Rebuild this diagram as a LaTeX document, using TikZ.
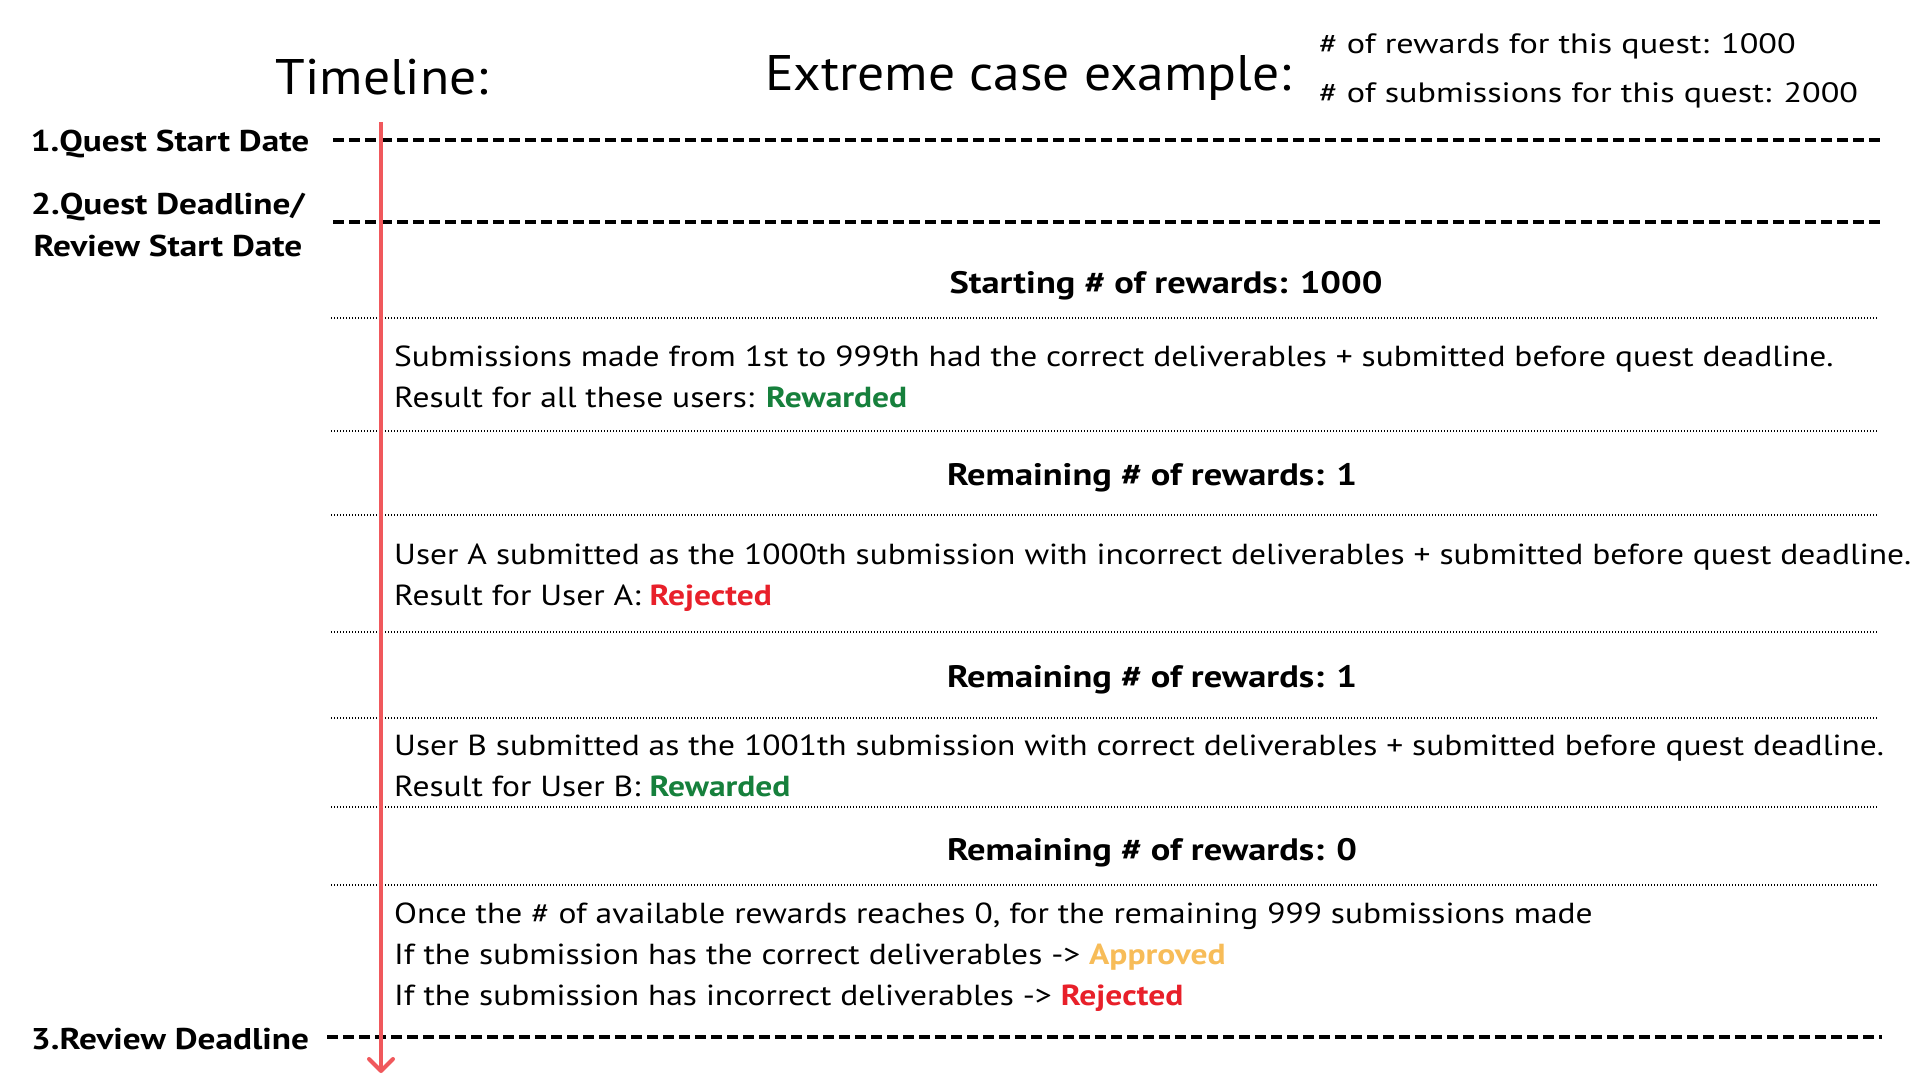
\documentclass[tikz,border=0pt]{standalone}
\usepackage{fontspec}
\setmainfont{PT Sans}
\newfontfamily\tlTitleFont{PT Sans}[FakeStretch=1.07]
\newfontfamily\tlTextFont{PT Sans}[FakeStretch=1.155]
\newfontfamily\tlBoldFont{PT Sans}[FakeStretch=1.175]
\newfontfamily\tlInfoFont{PT Sans}[FakeStretch=1.22]
\usetikzlibrary{arrows.meta}
\definecolor{rojoLinea}{RGB}{240,88,92}
\definecolor{verdeOk}{RGB}{22,128,60}
\definecolor{rojoNo}{RGB}{232,32,42}
\definecolor{naranjaOk}{RGB}{247,188,88}
\newcommand{\okRew}{\textcolor{verdeOk}{\bfseries Rewarded}}
\newcommand{\okRej}{\textcolor{rojoNo}{\bfseries Rejected}}
\newcommand{\okApr}{\textcolor{naranjaOk}{\bfseries Approved}}
\tikzset{
  tl/title/.style={font=\tlTitleFont\fontsize{50}{60}\selectfont, inner sep=0pt},
  tl/info/.style={font=\tlInfoFont\fontsize{28}{34}\selectfont, anchor=west,
    inner sep=0pt},
  tl/date/.style={font=\tlBoldFont\fontsize{30}{42}\selectfont\bfseries,
    align=center, inner sep=0pt},
  tl/head/.style={font=\tlBoldFont\fontsize{31}{36}\selectfont\bfseries,
    inner sep=0pt},
  tl/body/.style={font=\tlTextFont\fontsize{29}{41}\selectfont, anchor=west,
    align=left, inner sep=0pt},
  tl/dash/.style={line width=4pt, dash pattern=on 11pt off 5pt},
  tl/dot/.style={line width=1.3pt, dash pattern=on 1.4pt off 1.6pt},
  tl/arr/.style={draw=rojoLinea, line width=4pt,
    -{Straight Barb[length=12pt, width=24pt, round]}}
}

\begin{document}
\begin{tikzpicture}[x=1pt, y=-1pt]
  \useasboundingbox (0,0) rectangle (1920,1080);

  % Titulos
  \node[tl/title] at (382, 77) (tit) {Timeline:};
  \node[tl/title, anchor=west] at (765, 78) (ext) {Extreme case example:};
  \node[tl/info] at (1319, 46) (i1) {\# of rewards for this quest: 1000};
  \node[tl/info] at (1319, 95) (i2) {\# of submissions for this quest: 2000};

  % Fechas de la linea de tiempo
  \node[tl/date] at (170, 144)  (d1) {1.Quest Start Date};
  \node[tl/date] at (168, 225)  (d2) {2.Quest Deadline/\\Review Start Date};
  \node[tl/date] at (170, 1039) (d3) {3.Review Deadline};

  \draw[tl/dash] (333, 140)  -- (1882, 140);
  \draw[tl/dash] (333, 222)  -- (1882, 222);
  \draw[tl/dash] (327, 1037) -- (1882, 1037);

  % Separadores punteados
  \foreach \y in {318, 431, 515, 632, 718, 807, 885}
    \draw[tl/dot] (331, \y) -- (1878, \y);

  % Bloques
  \node[tl/head] at (1166, 286) (h1) {Starting \# of rewards: 1000};
  \node[tl/body] at (394, 377) (b1) {Submissions made from 1st to 999th had the
    correct deliverables + submitted before quest deadline.\\
    Result for all these users: \okRew};

  \node[tl/head] at (1152, 478) (h2) {Remaining \# of rewards: 1};
  \node[tl/body] at (394, 578) (b2) {User A submitted as the 1000th submission
    with incorrect deliverables + submitted before quest deadline.\\
    Result for User A: \okRej};

  \node[tl/head] at (1152, 680) (h3) {Remaining \# of rewards: 1};
  \node[tl/body] at (394, 766) (b3) {User B submitted as the 1001th submission
    with correct deliverables + submitted before quest deadline.\\
    Result for User B: \okRew};

  \node[tl/head] at (1152, 853) (h4) {Remaining \# of rewards: 0};
  \node[tl/body] at (394, 957) (b4) {Once the \# of available rewards reaches 0,
    for the remaining 999 submissions made\\
    If the submission has the correct deliverables -> \okApr\\
    If the submission has incorrect deliverables -> \okRej};

  % Flecha del tiempo
  \draw[tl/arr] (381, 122) -- (381, 1073);
\end{tikzpicture}
\end{document}
